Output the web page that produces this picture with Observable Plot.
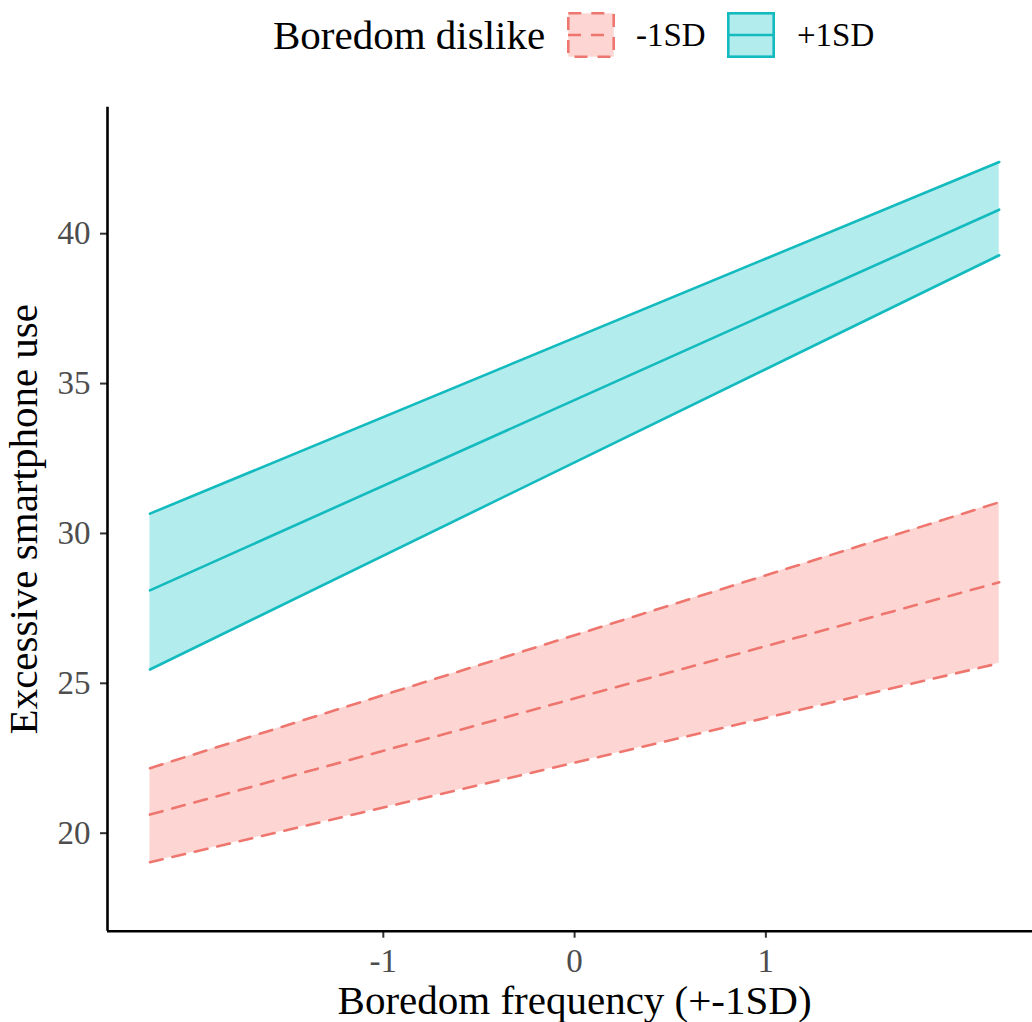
<!DOCTYPE html>
<html>
<head>
<meta charset="utf-8">
<script src="https://cdn.jsdelivr.net/npm/d3@7"></script>
<script src="https://cdn.jsdelivr.net/npm/@observablehq/plot@0.6"></script>
<style>
  html, body { margin: 0; padding: 0; background: white; }
  #wrap { width: 1032px; font-family: "Liberation Serif", "Times New Roman", serif; }
  #legend { position: relative; width: 1032px; height: 70px; }
  #legend .t { position: absolute; line-height: 1; white-space: nowrap; color: black; }
  #legend svg { position: absolute; }
  #chart svg { display: block; }
</style>
</head>
<body>
<div id="wrap">
  <div id="legend"></div>
  <div id="chart"></div>
</div>
<script>
// ---- data ----
const legendTitle = "Boredom dislike";
const groups = ["-1SD", "+1SD"];
const colors = ["#F8766D", "#00BFC4"];
const xEnds = [-2.22, 2.22];
const minusLow  = [19.03, 25.67];
const minusMean = [20.62, 28.37];
const minusHigh = [22.17, 31.04];
const plusLow   = [25.46, 39.28];
const plusMean  = [28.10, 40.80];
const plusHigh  = [30.66, 42.39];
const xTicks = [-1, 0, 1];
const yTicks = [20, 25, 30, 35, 40];
const xTitle = "Boredom frequency (+-1SD)";
const yTitle = "Excessive smartphone use";
const xDomain = [-2.442, 2.394];
const yDomain = [16.73, 44.22];

const lows = [minusLow, plusLow], means = [minusMean, plusMean], highs = [minusHigh, plusHigh];
const rows = groups.flatMap((g, i) => xEnds.map((x, j) => ({group: g, x, low: lows[i][j], mean: means[i][j], high: highs[i][j]})));
const dashes = ["13,10", null];
const font = '"Liberation Serif", "Times New Roman", serif';
const lineColors = ["#EE766E", "#13BABE"];

// ---- legend ----
const legend = document.getElementById("legend");
function addText(txt, left, baseline, fs) {
  const s = document.createElement("span");
  s.className = "t";
  s.textContent = txt;
  s.style.left = left + "px";
  s.style.top = (baseline - 0.8375 * fs) + "px";
  s.style.fontSize = fs + "px";
  legend.appendChild(s);
}
addText(legendTitle, 273, 49, 41);
const keyLeft = [567, 727], labLeft = [636, 797];
groups.forEach((g, i) => {
  const ns = "http://www.w3.org/2000/svg";
  const svg = document.createElementNS(ns, "svg");
  svg.setAttribute("width", 48); svg.setAttribute("height", 46);
  svg.style.left = keyLeft[i] + "px"; svg.style.top = "12px";
  const r = document.createElementNS(ns, "rect");
  r.setAttribute("x", 1.3); r.setAttribute("y", 1.3); r.setAttribute("width", 45.4); r.setAttribute("height", 43.4);
  r.setAttribute("fill", colors[i]); r.setAttribute("fill-opacity", 0.3);
  r.setAttribute("stroke", lineColors[i]); r.setAttribute("stroke-width", 2.6);
  if (dashes[i]) r.setAttribute("stroke-dasharray", dashes[i]);
  svg.appendChild(r);
  const l = document.createElementNS(ns, "line");
  l.setAttribute("x1", 1); l.setAttribute("x2", 47); l.setAttribute("y1", 23); l.setAttribute("y2", 23);
  l.setAttribute("stroke", lineColors[i]); l.setAttribute("stroke-width", 2.6);
  if (dashes[i]) l.setAttribute("stroke-dasharray", dashes[i]);
  svg.appendChild(l);
  legend.appendChild(svg);
  addText(g, labLeft[i], 47, 33);
});

// ---- chart ----
const lineMarks = [];
groups.forEach((g, i) => {
  const sub = rows.filter(d => d.group === g);
  ["low", "mean", "high"].forEach(k => {
    lineMarks.push(Plot.line(sub, {x: "x", y: k, stroke: lineColors[i], strokeWidth: 2.6, strokeDasharray: dashes[i] ?? undefined}));
  });
});

const chart = Plot.plot({
  width: 1032,
  height: 952,
  marginLeft: 107,
  marginRight: 0,
  marginTop: 36.7,
  marginBottom: 91.3,
  style: {fontFamily: font, background: "white", overflow: "visible"},
  x: {domain: xDomain},
  y: {domain: yDomain},
  marks: [
    ...groups.map((g, i) => Plot.areaY(rows.filter(d => d.group === g), {x: "x", y1: "low", y2: "high", fill: colors[i], fillOpacity: 0.3})),
    ...lineMarks,
    Plot.axisX({ticks: xTicks, tickFormat: d => String(d), tickSize: 7, tickPadding: 10, fontSize: 33, stroke: "#333333", fill: "#4D4D4D", strokeWidth: 2, label: null}),
    Plot.axisY({ticks: yTicks, tickFormat: d => String(d), tickSize: 7, tickPadding: 10, fontSize: 33, stroke: "#333333", fill: "#4D4D4D", strokeWidth: 2, label: null}),
    Plot.ruleX([xDomain[0]], {stroke: "black", strokeWidth: 2.6}),
    Plot.ruleY([yDomain[0]], {stroke: "black", strokeWidth: 2.6}),
    Plot.text([{t: xTitle, x: 0}], {x: "x", text: "t", frameAnchor: "bottom", dy: 69.3, fontSize: 41, lineAnchor: "middle", textAnchor: "middle", fill: "black"}),
    Plot.text([yTitle], {frameAnchor: "left", rotate: -90, dx: -84, fontSize: 41, lineAnchor: "middle", textAnchor: "middle", fill: "black"})
  ]
});
document.getElementById("chart").appendChild(chart);
</script>
</body>
</html>
